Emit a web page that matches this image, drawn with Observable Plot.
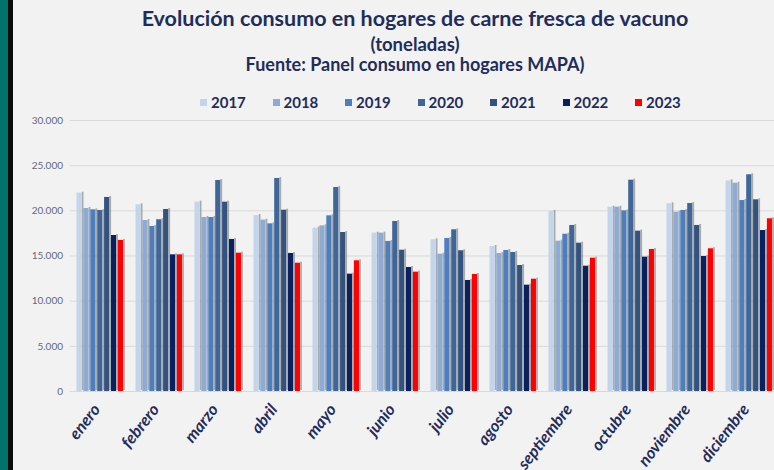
<!DOCTYPE html>
<html>
<head>
<meta charset="utf-8">
<script src="https://cdn.jsdelivr.net/npm/d3@7"></script>
<script src="https://cdn.jsdelivr.net/npm/@observablehq/plot@0.6"></script>
<style>
  html, body { margin: 0; padding: 0; }
  body { width: 774px; height: 470px; background: #f2f2f2; position: relative; overflow: hidden; font-family: Lato, "Open Sans", sans-serif; }
  .strip1 { position: absolute; left: 0; top: 0; width: 8px; height: 470px; background: #00746a; }
  .strip2 { position: absolute; left: 8px; top: 0; width: 5px; height: 470px; background: #0b0b0b; }
  .title { position: absolute; left: 56px; width: 718px; text-align: center; color: #1f2d5c; font-weight: bold; white-space: nowrap; line-height: 1; }
  .legend { position: absolute; left: 200px; top: 93px; display: flex; }
  .legend .item { width: 72.5px; display: flex; align-items: center; font-weight: bold; font-size: 15px; color: #1f2d5c; }
  .legend .sw { width: 7px; height: 7px; margin-right: 4px; }
  #chart { position: absolute; left: 0; top: 110px; }
</style>
</head>
<body>
<div class="strip1"></div><div class="strip2"></div>
<div class="title" style="top:8px;font-size:21.5px;">Evolución consumo en hogares de carne fresca de vacuno</div>
<div class="title" style="top:35px;font-size:18.5px;">(toneladas)</div>
<div class="title" style="top:55px;font-size:18px;">Fuente: Panel consumo en hogares MAPA)</div>
<div class="legend" id="legend"></div>
<div id="chart"></div>
<script>
const months = ["enero","febrero","marzo","abril","mayo","junio","julio","agosto","septiembre","octubre","noviembre","diciembre"];
const years = ["2017","2018","2019","2020","2021","2022","2023"];
const v2017 = [21950, 20670, 20960, 19480, 18080, 17530, 16790, 16050, 19930, 20400, 20780, 23320];
const v2018 = [20260, 18930, 19260, 18970, 18340, 17530, 15200, 15280, 16640, 20400, 19850, 23060];
const v2019 = [20110, 18270, 19260, 18560, 19450, 16610, 16940, 15610, 17410, 20000, 20040, 21140];
const v2020 = [20040, 19010, 23360, 23580, 22580, 18820, 17900, 15390, 18380, 23390, 20810, 23990];
const v2021 = [21480, 20150, 20960, 20070, 17600, 15640, 15580, 13950, 16420, 17750, 18380, 21220];
const v2022 = [17270, 15130, 16830, 15280, 12990, 13730, 12290, 11770, 13870, 14870, 14950, 17820];
const v2023 = [16720, 15130, 15310, 14200, 14470, 13210, 12950, 12430, 14760, 15720, 15800, 19120];
const series = [v2017, v2018, v2019, v2020, v2021, v2022, v2023];
const colors = ["#c3d5ea", "#8eabd4", "#4e7ebd", "#3f6698", "#33527e", "#0a2160", "#ff0000"];
const yTicks = [0, 5000, 10000, 15000, 20000, 25000, 30000];

// legend
const lg = document.getElementById("legend");
years.forEach((yr, i) => {
  const it = document.createElement("div"); it.className = "item";
  const sw = document.createElement("span"); sw.className = "sw"; sw.style.background = colors[i];
  it.appendChild(sw); it.appendChild(document.createTextNode(yr)); lg.appendChild(it);
});

const x0 = 69.5, x1 = 779;
const bw = (x1 - x0) / months.length;
const slot = 6.9, barW = 5.2, start = 6.5, shW = 1.9;

const marks = [
  Plot.gridY(yTicks, {stroke: "#d9d9d9", strokeOpacity: 1}),
  Plot.ruleY([0], {stroke: "#d3d3d3", x1: 62})
];
series.forEach((vals, i) => {
  const rows = months.map((m, j) => ({month: m, value: vals[j]}));
  const left = start + i * slot;
  marks.push(Plot.barY(rows, {x: "month", y: "value", fill: "#7a7a7a", fillOpacity: 0.6,
    insetLeft: left + barW, insetRight: bw - (left + barW + shW), dy: -1}));
  marks.push(Plot.barY(rows, {x: "month", y: "value", fill: colors[i],
    insetLeft: left, insetRight: bw - (left + barW)}));
});
marks.push(Plot.axisY(yTicks, {tickFormat: d => d3.format(",")(d).replace(/,/g, "."), fontSize: 10, fill: "#626880", tickSize: 0, tickPadding: 7, label: null}));
marks.push(Plot.text(months, {x: d => d, y: () => 0, text: d => d, rotate: -52, textAnchor: "end", lineAnchor: "middle",
  dx: -3, dy: 15, fontSize: 16.5, fontWeight: "bold", fontStyle: "italic", fill: "#1f2d5c"}));

const chart = Plot.plot({
  width: 774,
  height: 360,
  marginTop: 10,
  marginBottom: 79,
  marginLeft: x0,
  marginRight: 0,
  style: {background: "transparent", fontFamily: "Lato, 'Open Sans', sans-serif", overflow: "visible"},
  x: {domain: months, range: [x0, x1], padding: 0, axis: null},
  y: {domain: [0, 30000], axis: null},
  marks
});
document.getElementById("chart").appendChild(chart);
</script>
</body>
</html>
